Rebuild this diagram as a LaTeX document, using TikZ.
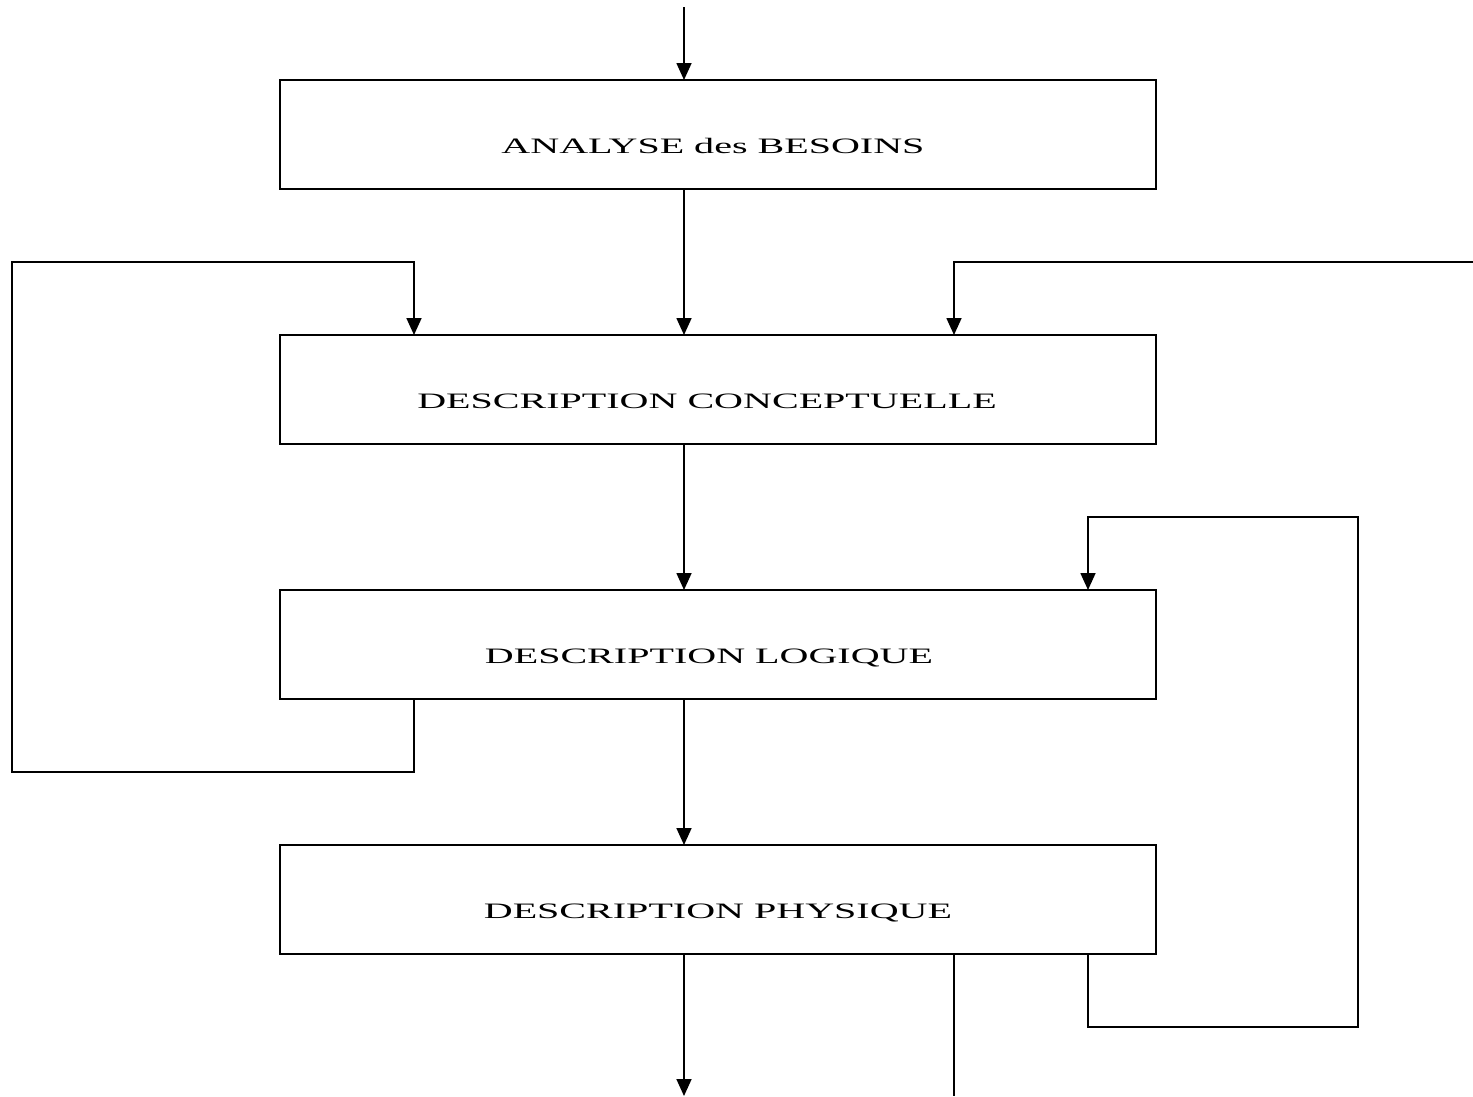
\documentclass[tikz,border=0pt]{standalone}
\usepackage{fontspec}
\setmainfont{Liberation Serif}
\usetikzlibrary{arrows.meta}
\begin{document}
\begin{tikzpicture}[x=1pt,y=-1pt,line width=1.7pt,
  stage/.style={draw,minimum width=876pt,minimum height=109pt,inner sep=0pt,outer sep=0pt},
  lbl/.style={inner sep=0pt,anchor=base,font=\fontsize{22}{22}\selectfont},
  arr/.style={-{Triangle[length=17pt,width=15pt]}}]
\useasboundingbox (0,0) rectangle (1473,1096);
% boxes
\node[stage] (a) at (718,134.5) {};
\node[stage] (b) at (718,389.5) {};
\node[stage] (c) at (718,644.5) {};
\node[stage] (d) at (718,899.5) {};
% labels
\node[lbl] (ta) at (713,153) {\scalebox{1.82}[1]{ANALYSE des BESOINS}};
\node[lbl] (tb) at (707,408) {\scalebox{1.82}[1]{DESCRIPTION CONCEPTUELLE}};
\node[lbl] (tc) at (709,663) {\scalebox{1.82}[1]{DESCRIPTION LOGIQUE}};
\node[lbl] (td) at (718,918) {\scalebox{1.82}[1]{DESCRIPTION PHYSIQUE}};
% free ends
\coordinate (top) at (684,7);
\coordinate (redge) at (1473,262);
\coordinate (bot) at (684,1096);
\coordinate (bot2) at (954,1096);
% main flow
\draw[arr] (top) -- (684,80);
\draw[arr] (684,189) -- (684,335);
\draw[arr] (684,444) -- (684,590);
\draw[arr] (684,699) -- (684,845);
\draw[arr] (684,954) -- (bot);
\draw (954,954) -- (bot2);
% left loop
\draw[arr] (414,699) -- (414,772) -- (12,772) -- (12,262) -- (414,262) -- (414,335);
% right entry
\draw[arr] (redge) -- (954,262) -- (954,335);
% right loop
\draw[arr] (1088,954) -- (1088,1027) -- (1358,1027) -- (1358,517) -- (1088,517) -- (1088,590);
\end{tikzpicture}
\end{document}
